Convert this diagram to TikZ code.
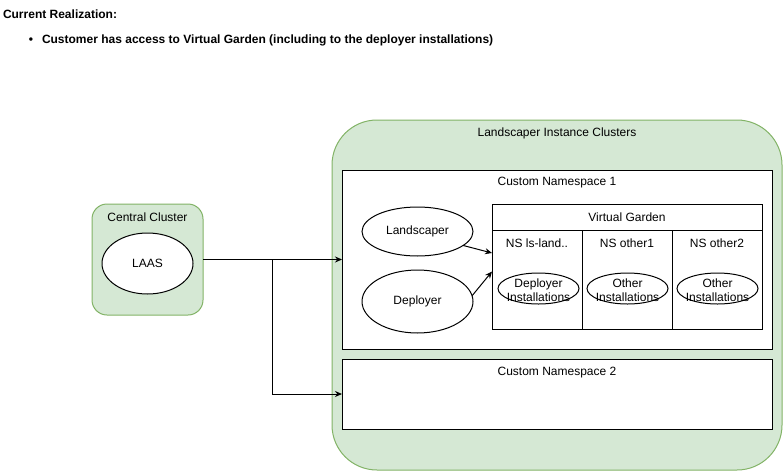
\documentclass[tikz,border=0pt]{standalone}
\usepackage{fontspec}
\setmainfont{Liberation Sans}
\usetikzlibrary{shapes.geometric,arrows.meta}
\definecolor{gfill}{HTML}{D5E8D4}
\definecolor{gline}{HTML}{82B366}
\begin{document}
\begin{tikzpicture}[x=1pt,y=-1pt,
  every node/.style={font=\fontsize{12}{14}\selectfont, inner sep=0pt, outer sep=0pt},
  grp/.style={draw=gline, fill=gfill, line width=1pt, anchor=north west},
  box/.style={draw=black, fill=white, line width=1pt, anchor=north west},
  ell/.style={draw=black, fill=white, line width=1pt, ellipse, align=center},
  lbl/.style={anchor=center, align=center},
  arr/.style={line width=1pt, -{Stealth[length=7pt,width=6pt]}}]
\useasboundingbox (0,0) rectangle (783,471);
% header text
\node[anchor=west] (title) at (3,14) {\bfseries Current Realization:};
\node (bul) at (31,40.5) {\bfseries •};
\node[anchor=west] (btxt) at (42,40) {\bfseries Customer has access to Virtual Garden (including to the deployer installations)};
% central cluster
\node[grp, rounded corners=15pt, minimum width=111pt, minimum height=111pt] (cc) at (92,204) {};
\node[lbl] (cclbl) at (147.5,217) {Central Cluster};
\node[ell, minimum width=91pt, minimum height=61pt] (laas) at (147.5,263.5) {LAAS};
% landscaper instance clusters
\node[grp, rounded corners=45pt, minimum width=450pt, minimum height=350pt] (lic) at (332,120) {};
\node[lbl] (liclbl) at (557,133) {Landscaper Instance Clusters};
% namespaces
\node[box, minimum width=430pt, minimum height=179pt] (ns1) at (342,170) {};
\node[lbl] (ns1lbl) at (557,183) {Custom Namespace 1};
\node[box, minimum width=430pt, minimum height=70pt] (ns2) at (342,359) {};
\node[lbl] (ns2lbl) at (557,373) {Custom Namespace 2};
% virtual garden
\node[box, minimum width=270pt, minimum height=125pt] (vg) at (492,204) {};
\node[lbl] (vglbl) at (627,217) {Virtual Garden};
\draw[line width=1pt] (492,230) coordinate (h1) -- (762,230) coordinate (h2);
\draw[line width=1pt] (582,230) coordinate (d1a) -- (582,329) coordinate (d1b);
\draw[line width=1pt] (672,230) coordinate (d2a) -- (672,329) coordinate (d2b);
\node[lbl] (nsa) at (537,243) {NS ls-land..};
\node[lbl] (nsb) at (627,243) {NS other1};
\node[lbl] (nsc) at (717,243) {NS other2};
\node[ell, minimum width=81pt, minimum height=31pt] (di) at (538.5,288.5) {};
\node[lbl] (ditxt) at (538.5,290) {Deployer\\Installations};
\node[ell, minimum width=81pt, minimum height=31pt] (oi1) at (627.5,288.5) {};
\node[lbl] (oi1txt) at (627.5,290) {Other\\Installations};
\node[ell, minimum width=81pt, minimum height=31pt] (oi2) at (717.5,288.5) {};
\node[lbl] (oi2txt) at (717.5,290) {Other\\Installations};
% landscaper / deployer
\node[ell, minimum width=111pt, minimum height=49pt] (ls) at (417.5,231.5) {Landscaper};
\node[ell, minimum width=111pt, minimum height=63pt] (dp) at (417.5,301.5) {Deployer};
% connectors
\coordinate (br) at (272,259.5);
\draw[arr] (cc.east) -- (ns1.west);
\draw[arr] (br) |- (ns2.west);
\draw[arr] (ls.-17) -- ([yshift=13.5pt]vg.west);
\draw[arr] (dp.6) -- ([yshift=-5pt]vg.west);
\end{tikzpicture}
\end{document}
